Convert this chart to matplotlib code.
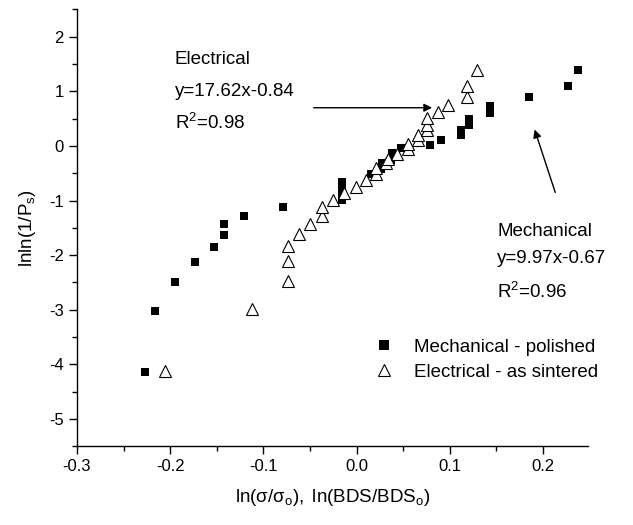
import matplotlib
matplotlib.use('Agg')
import matplotlib.pyplot as plt
from matplotlib.lines import Line2D
from matplotlib.ticker import MultipleLocator, FormatStrFormatter

plt.rcParams['font.family'] = ['Liberation Sans', 'DejaVu Sans']
plt.rcParams['mathtext.fontset'] = 'custom'
plt.rcParams['mathtext.rm'] = 'Liberation Sans'
plt.rcParams['mathtext.it'] = 'Liberation Sans:italic'
plt.rcParams['axes.unicode_minus'] = False

# Mechanical - polished (filled squares)
mech_x = [-0.227, -0.216, -0.195, -0.173, -0.153, -0.142, -0.142, -0.121, -0.079,
          -0.016, -0.016, -0.016, -0.016, 0.015, 0.026, 0.027, 0.037, 0.038, 0.048,
          0.079, 0.090, 0.112, 0.112, 0.121, 0.121, 0.143, 0.143, 0.185, 0.227, 0.237]
mech_y = [-4.14, -3.02, -2.49, -2.12, -1.85, -1.63, -1.43, -1.28, -1.12,
          -0.66, -0.77, -0.88, -0.99, -0.52, -0.43, -0.32, -0.25, -0.12, -0.04,
          0.02, 0.11, 0.20, 0.29, 0.38, 0.50, 0.61, 0.73, 0.89, 1.09, 1.39]

# Electrical - as sintered (open triangles)
elec_x = [-0.206, -0.112, -0.074, -0.074, -0.074, -0.062, -0.050, -0.037, -0.037,
          -0.025, -0.014, -0.001, 0.010, 0.021, 0.021, 0.032, 0.034, 0.043, 0.055,
          0.055, 0.066, 0.066, 0.076, 0.076, 0.076, 0.087, 0.098, 0.118, 0.118, 0.129]
elec_y = [-4.12, -2.99, -2.47, -2.10, -1.83, -1.62, -1.43, -1.28, -1.12,
          -0.99, -0.86, -0.75, -0.63, -0.51, -0.41, -0.31, -0.23, -0.15, -0.05,
          0.04, 0.11, 0.20, 0.29, 0.38, 0.51, 0.63, 0.75, 0.90, 1.10, 1.40]

fig = plt.figure(figsize=(6.33, 5.25), dpi=100)
ax = fig.add_axes([0.1216, 0.150, 0.807, 0.832])

ax.plot(mech_x, mech_y, 's', color='black', ms=5.6, mec='black', mew=0, zorder=3)
ax.plot(elec_x, elec_y, '^', mfc='white', mec='black', ms=8, mew=0.8, zorder=4)

ax.set_xlim(-0.3, 0.248)
ax.set_ylim(-5.5, 2.5)
ax.xaxis.set_major_locator(MultipleLocator(0.1))
ax.xaxis.set_minor_locator(MultipleLocator(0.05))
ax.yaxis.set_major_locator(MultipleLocator(1))
ax.yaxis.set_minor_locator(MultipleLocator(0.5))
ax.xaxis.set_major_formatter(FormatStrFormatter('%.1f'))
ax.tick_params(which='major', direction='out', length=6, width=1, labelsize=12)
ax.tick_params(which='minor', direction='out', length=3.5, width=1)
for s in ['top', 'right']:
    ax.spines[s].set_visible(False)
for s in ['left', 'bottom']:
    ax.spines[s].set_linewidth(1)

ax.set_xlabel(r'$\mathregular{ln(\sigma/\sigma_o),\ ln(BDS/BDS_o)}$', fontsize=13.5, labelpad=9)
ax.set_ylabel(r'$\mathregular{lnln(1/P_s)}$', fontsize=13.5, labelpad=8)

# annotations
fs = 13.5
ax.text(-0.195, 1.575, 'Electrical', fontsize=fs, va='center')
ax.text(-0.195, 0.99, 'y=17.62x-0.84', fontsize=fs, va='center')
ax.text(-0.195, 0.42, r'$\mathregular{R^2}$=0.98', fontsize=fs, va='center')
ax.annotate('', xy=(0.084, 0.70), xytext=(-0.049, 0.70),
            arrowprops=dict(arrowstyle='-|>', color='black', lw=1, mutation_scale=12))

ax.text(0.151, -1.575, 'Mechanical', fontsize=fs, va='center')
ax.text(0.151, -2.07, 'y=9.97x-0.67', fontsize=fs, va='center')
ax.text(0.151, -2.67, r'$\mathregular{R^2}$=0.96', fontsize=fs, va='center')
ax.annotate('', xy=(0.190, 0.35), xytext=(0.214, -0.90),
            arrowprops=dict(arrowstyle='-|>', color='black', lw=1, mutation_scale=12))

handles = [Line2D([], [], ls='none', marker='s', color='black', ms=7.2, mew=0),
           Line2D([], [], ls='none', marker='^', mfc='white', mec='black', ms=8, mew=0.8)]
ax.legend(handles, ['Mechanical - polished', 'Electrical - as sintered'],
          loc='center left', bbox_to_anchor=(0.583, 0.198), frameon=False,
          fontsize=13.5, handlelength=1.0, handletextpad=1.1, labelspacing=0.4,
          borderpad=0, borderaxespad=0)

fig.savefig('out.png', dpi=100)
